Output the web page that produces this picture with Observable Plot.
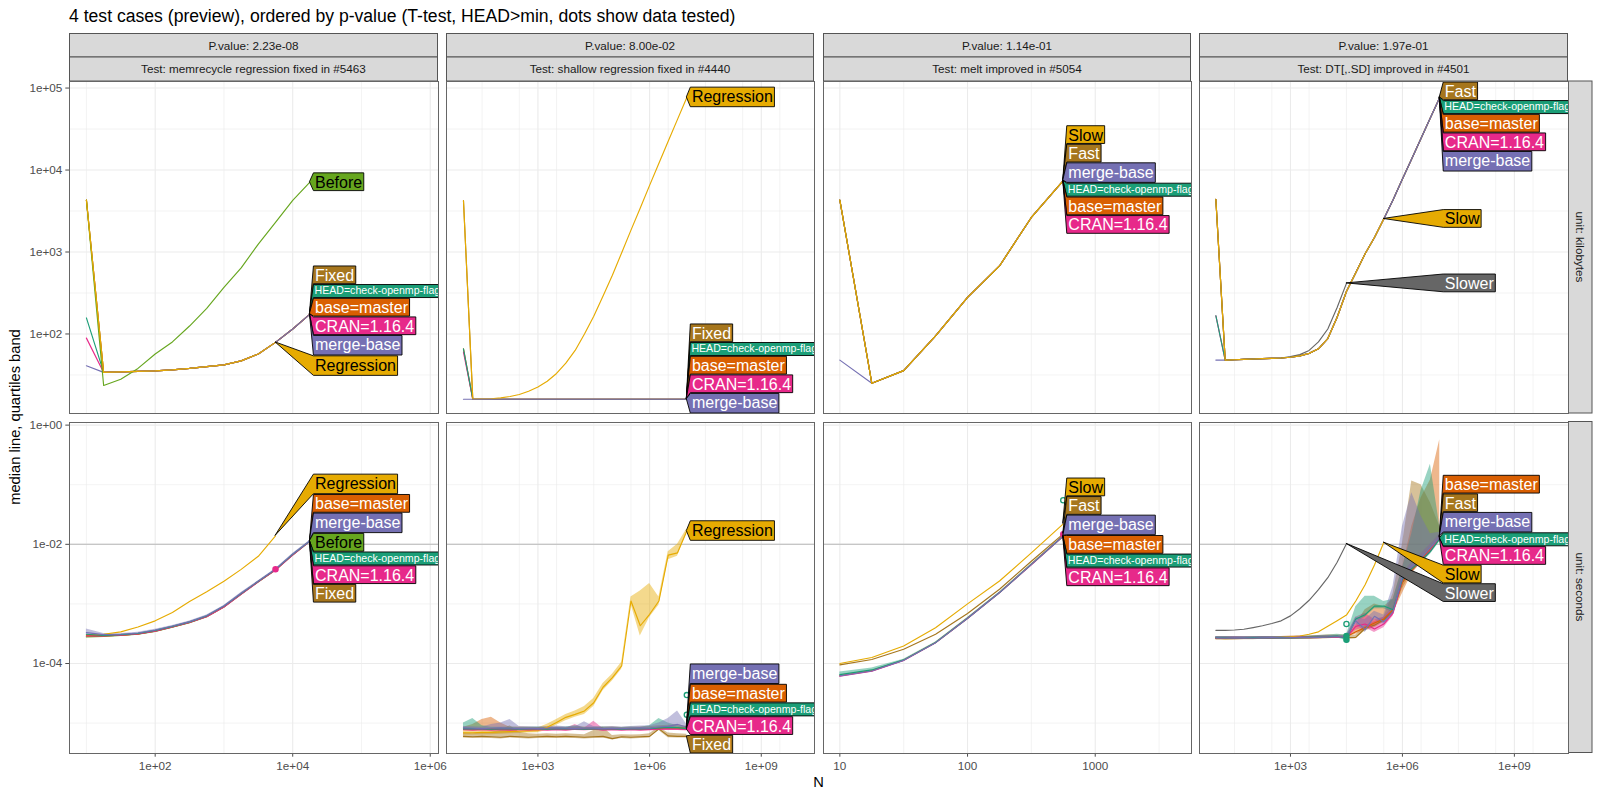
<!DOCTYPE html>
<html><head><meta charset="utf-8">
<script src="https://cdn.jsdelivr.net/npm/d3@7"></script>
<script src="https://cdn.jsdelivr.net/npm/@observablehq/plot@0.6"></script>
<style>
body{margin:0;background:#fff;}
#chart{position:relative;width:1600px;height:800px;overflow:hidden;font-family:"Liberation Sans",Arial,sans-serif;}
#chart svg{position:absolute;}
</style></head><body><div id="chart"></div>
<script>
// ---------------- DATA ----------------
const chartTitle = "4 test cases (preview), ordered by p-value (T-test, HEAD>min, dots show data tested)";
const testNames = ["memrecycle regression fixed in #5463", "shallow regression fixed in #4440", "melt improved in #5054", "DT[,.SD] improved in #4501"];
const pValues = ["2.23e-08", "8.00e-02", "1.14e-01", "1.97e-01"];
const units = ["kilobytes", "seconds"];
const xAxisTitle = "N";
const yAxisTitle = "median line, quartiles band";

const seriesNames = ["HEAD=check-openmp-flags", "base=master", "merge-base", "CRAN=1.16.4", "Before", "Regression", "Fixed", "Slow", "Fast", "Slower"];
const seriesColors = ["#1B9E77", "#D95F02", "#7570B3", "#E7298A", "#66A61E", "#E6AB02", "#A6761D", "#E6AB02", "#A6761D", "#666666"];
const darkTextSeries = ["Before", "Regression", "Slow"];

// tick values and labels
const xTicks_memrecycle = [1e2, 1e4, 1e6], xTickLabels_memrecycle = ["1e+02", "1e+04", "1e+06"];
const xTicks_shallow = [1e3, 1e6, 1e9], xTickLabels_shallow = ["1e+03", "1e+06", "1e+09"];
const xTicks_melt = [10, 100, 1000], xTickLabels_melt = ["10", "100", "1000"];
const xTicks_sd = [1e3, 1e6, 1e9], xTickLabels_sd = ["1e+03", "1e+06", "1e+09"];
const yTicks_kb = [1e2, 1e3, 1e4, 1e5], yTickLabels_kb = ["1e+02", "1e+03", "1e+04", "1e+05"];
const yTicks_s = [1e-4, 1e-2, 1e0], yTickLabels_s = ["1e-04", "1e-02", "1e+00"];
const refLine_s = [1e-2];

// N grids
const N_memrecycle = [10, 17.8, 31.6, 56.2, 100, 178, 316, 562, 1000, 1780, 3160, 5620, 10000, 17800];
const N_shallow = [10, 17.8, 31.6, 56.2, 100, 178, 316, 562, 1e3, 1.78e3, 3.16e3, 5.62e3, 1e4, 1.78e4, 3.16e4, 5.62e4, 1e5, 1.78e5, 3.16e5, 5.62e5, 1e6, 1.78e6, 3.16e6, 5.62e6, 1e7];
const N_melt = [10, 17.8, 31.6, 56.2, 100, 178, 316, 562];
const N_sd = [10, 17.8, 31.6, 56.2, 100, 178, 316, 562, 1e3, 1.78e3, 3.16e3, 5.62e3, 1e4, 1.78e4, 3.16e4, 5.62e4, 1e5, 1.78e5, 3.16e5, 5.62e5, 1e6, 1.78e6, 3.16e6, 5.62e6, 1e7];

// ---- kilobytes ----
const kb_mem_Before = [4300, 23.5, 28, 38, 57, 80, 125, 205, 370, 640, 1250, 2300, 4270, 7100];
const kb_mem_Regression = [4300, 34, 34.5, 35, 35.5, 36.5, 38, 40, 42, 47, 57, 79];
const kb_mem_Fixed = [4300, 34, 34.5, 35, 35.5, 36.5, 38, 40, 42, 47, 57, 79, 115, 175];
const kb_mem_base = [4300, 34, 34.5, 35, 35.5, 36.5, 38, 40, 42, 47, 57, 79, 115, 175];
const kb_mem_CRAN = [89, 34, 34.5, 35, 35.5, 36.5, 38, 40, 42, 47, 57, 79, 115, 175];
const kb_mem_HEAD = [157, 34, 34.5, 35, 35.5, 36.5, 38, 40, 42, 47, 57, 79, 115, 175];
const kb_mem_merge = [41, 34, 34.5, 35, 35.5, 36.5, 38, 40, 42, 47, 57, 79, 115, 175];

const kb_sh_Regression = [4230, 16.05, 16.1, 16.2, 16.6, 17.3, 18.3, 20, 22.5, 26.5, 33, 44, 63, 100, 165, 290, 520, 980, 1850, 3450, 6500, 12100, 22400, 41500, 76900];
const kb_sh_Fixed = [4230, 16, 16, 16, 16, 16, 16, 16, 16, 16, 16, 16, 16, 16, 16, 16, 16, 16, 16, 16, 16, 16, 16, 16, 16];
const kb_sh_base = [66, 16, 16, 16, 16, 16, 16, 16, 16, 16, 16, 16, 16, 16, 16, 16, 16, 16, 16, 16, 16, 16, 16, 16, 16];
const kb_sh_CRAN = [60, 16, 16, 16, 16, 16, 16, 16, 16, 16, 16, 16, 16, 16, 16, 16, 16, 16, 16, 16, 16, 16, 16, 16, 16];
const kb_sh_HEAD = [66, 16, 16, 16, 16, 16, 16, 16, 16, 16, 16, 16, 16, 16, 16, 16, 16, 16, 16, 16, 16, 16, 16, 16, 16];
const kb_sh_merge = [16, 16, 16, 16, 16, 16, 16, 16, 16, 16, 16, 16, 16, 16, 16, 16, 16, 16, 16, 16, 16, 16, 16, 16, 16];

const kb_melt_Slow = [4300, 25, 35.7, 95, 279, 676, 2640, 7440];
const kb_melt_Fast = [4300, 25, 35.7, 95, 279, 676, 2640, 7440];
const kb_melt_base = [4300, 25, 35.7, 95, 279, 676, 2640, 7440];
const kb_melt_CRAN = [4300, 25, 35.7, 95, 279, 676, 2640, 7440];
const kb_melt_HEAD = [4300, 25, 35.7, 95, 279, 676, 2640, 7440];
const kb_melt_merge = [48, 25, 35.7, 95, 279, 676, 2640, 7440];

const kb_sd_Slower = [4400, 48, 48.5, 49, 49.5, 50, 50.5, 51, 53, 56, 63, 80, 115, 210, 414];
const kb_sd_Slow = [4400, 48, 48.5, 49, 49.5, 50, 50.5, 51, 52, 54, 58, 66, 88, 160, 330, 560, 950, 1500, 2530];
const kb_sd_Fast = [4400, 48, 48.5, 49, 49.5, 50, 50.5, 51, 52, 54, 58, 66, 88, 160, 330, 560, 950, 1500, 2530, 4350, 7750, 13700, 24400, 43400, 76900];
const kb_sd_base = [4400, 48, 48.5, 49, 49.5, 50, 50.5, 51, 52, 54, 58, 66, 88, 160, 330, 560, 950, 1500, 2530, 4350, 7750, 13700, 24400, 43400, 76900];
const kb_sd_CRAN = [167, 48, 48.5, 49, 49.5, 50, 50.5, 51, 52, 54, 58, 66, 88, 160, 330, 560, 950, 1500, 2530, 4350, 7750, 13700, 24400, 43400, 76900];
const kb_sd_HEAD = [167, 48, 48.5, 49, 49.5, 50, 50.5, 51, 52, 54, 58, 66, 88, 160, 330, 560, 950, 1500, 2530, 4350, 7750, 13700, 24400, 43400, 76900];
const kb_sd_merge = [48, 48, 48.5, 49, 49.5, 50, 50.5, 51, 52, 54, 58, 66, 88, 160, 330, 560, 950, 1500, 2530, 4350, 7750, 13700, 24400, 43400, 76900];

// ---- seconds ----
const s_mem_Regression = [3.0e-4, 3.1e-4, 3.4e-4, 4.1e-4, 5.2e-4, 7.2e-4, 1.1e-3, 1.6e-3, 2.4e-3, 3.8e-3, 6.3e-3, 1.38e-2];
const s_mem_Before = [2.8e-4, 2.85e-4, 2.95e-4, 3.1e-4, 3.45e-4, 4.05e-4, 4.85e-4, 6.1e-4, 8.9e-4, 1.46e-3, 2.36e-3, 3.72e-3, 6.65e-3, 1.13e-2];
const s_mem_Fixed = [2.9e-4, 2.9e-4, 3.0e-4, 3.15e-4, 3.5e-4, 4.1e-4, 4.9e-4, 6.15e-4, 8.95e-4, 1.47e-3, 2.37e-3, 3.74e-3, 6.7e-3, 1.135e-2];
const s_mem_base = [3.0e-4, 2.95e-4, 3.0e-4, 3.15e-4, 3.55e-4, 4.15e-4, 4.95e-4, 6.2e-4, 9.0e-4, 1.48e-3, 2.38e-3, 3.75e-3, 6.7e-3, 1.13e-2];
const s_mem_CRAN = [2.9e-4, 2.9e-4, 3.0e-4, 3.15e-4, 3.5e-4, 4.1e-4, 4.9e-4, 6.1e-4, 8.9e-4, 1.45e-3, 2.35e-3, 3.7e-3, 6.6e-3, 1.12e-2];
const s_mem_HEAD = [3.1e-4, 2.95e-4, 3.05e-4, 3.2e-4, 3.6e-4, 4.2e-4, 5.0e-4, 6.3e-4, 9.2e-4, 1.5e-3, 2.4e-3, 3.8e-3, 6.8e-3, 1.14e-2];
const s_mem_merge = [3.3e-4, 3.05e-4, 3.1e-4, 3.25e-4, 3.65e-4, 4.25e-4, 5.05e-4, 6.4e-4, 9.3e-4, 1.52e-3, 2.42e-3, 3.85e-3, 6.9e-3, 1.15e-2];
const s_mem_merge_lo = [2.95e-4, 2.95e-4, 3.0e-4, 3.15e-4, 3.55e-4, 4.15e-4, 4.95e-4, 6.3e-4, 9.2e-4, 1.5e-3, 2.4e-3, 3.8e-3, 6.8e-3, 1.13e-2];
const s_mem_merge_hi = [3.8e-4, 3.2e-4, 3.2e-4, 3.35e-4, 3.75e-4, 4.35e-4, 5.15e-4, 6.5e-4, 9.4e-4, 1.55e-3, 2.45e-3, 3.9e-3, 7.0e-3, 1.17e-2];
const dots_mem_s_CRAN = [[5620, 3.8e-3]];

const s_sh_Regression = [6.9e-6, 6.9e-6, 7.0e-6, 7.0e-6, 7.1e-6, 7.2e-6, 7.3e-6, 7.4e-6, 7.5e-6, 8.5e-6, 1.02e-5, 1.25e-5, 1.4e-5, 1.6e-5, 2.2e-5, 4.0e-5, 5.8e-5, 9.1e-5, 1.12e-3, 4.3e-4, 6.7e-4, 1.12e-3, 6.6e-3, 7.2e-3, 1.67e-2];
const s_sh_Regression_hi = [7.6e-6, 7.6e-6, 7.7e-6, 7.8e-6, 7.9e-6, 8.0e-6, 8.1e-6, 8.2e-6, 8.3e-6, 9.6e-6, 1.15e-5, 1.4e-5, 1.6e-5, 1.9e-5, 2.6e-5, 4.6e-5, 6.6e-5, 1.05e-4, 1.3e-3, 1.65e-3, 2.2e-3, 1.3e-3, 7.5e-3, 1.0e-2, 1.8e-2];
const s_sh_Regression_lo = [6.3e-6, 6.3e-6, 6.4e-6, 6.4e-6, 6.5e-6, 6.6e-6, 6.7e-6, 6.8e-6, 6.9e-6, 7.6e-6, 9.2e-6, 1.1e-5, 1.25e-5, 1.4e-5, 1.9e-5, 3.5e-5, 5.1e-5, 8.0e-5, 1.0e-3, 2.9e-4, 5.9e-4, 9.5e-4, 5.5e-3, 6.3e-3, 1.55e-2];
const s_sh_Fixed = [6.0e-6, 5.9e-6, 6.0e-6, 5.9e-6, 5.8e-6, 6.0e-6, 5.9e-6, 5.8e-6, 5.9e-6, 6.0e-6, 5.9e-6, 6.0e-6, 5.9e-6, 5.8e-6, 5.9e-6, 6.0e-6, 5.5e-6, 5.9e-6, 5.8e-6, 5.9e-6, 6.0e-6, 8.0e-6, 6.1e-6, 6.0e-6, 6.0e-6];
const s_sh_Fixed_hi = [6.8e-6, 6.6e-6, 6.8e-6, 7.0e-6, 7.5e-6, 9.0e-6, 7.0e-6, 6.6e-6, 6.5e-6, 6.6e-6, 6.5e-6, 6.6e-6, 6.5e-6, 6.4e-6, 7.5e-6, 8.5e-6, 6.2e-6, 6.4e-6, 6.3e-6, 6.4e-6, 6.6e-6, 8.5e-6, 6.8e-6, 6.6e-6, 6.5e-6];
const s_sh_Fixed_lo = [5.6e-6, 5.5e-6, 5.6e-6, 5.5e-6, 5.4e-6, 5.6e-6, 5.5e-6, 5.4e-6, 5.5e-6, 5.6e-6, 5.5e-6, 5.6e-6, 5.5e-6, 5.4e-6, 5.5e-6, 5.6e-6, 5.2e-6, 5.5e-6, 5.4e-6, 5.5e-6, 5.6e-6, 7.5e-6, 5.7e-6, 5.6e-6, 5.6e-6];
const s_sh_base = [7.9e-6, 8.0e-6, 8.0e-6, 8.1e-6, 8.0e-6, 7.9e-6, 8.0e-6, 8.0e-6, 7.9e-6, 8.0e-6, 8.0e-6, 7.9e-6, 8.0e-6, 8.0e-6, 7.9e-6, 8.0e-6, 8.0e-6, 7.9e-6, 8.0e-6, 8.0e-6, 8.1e-6, 8.2e-6, 8.2e-6, 8.3e-6, 8.2e-6];
const s_sh_base_hi = [8.5e-6, 9.5e-6, 1.15e-5, 1.25e-5, 1.0e-5, 8.5e-6, 8.6e-6, 8.5e-6, 8.4e-6, 8.5e-6, 8.6e-6, 8.4e-6, 8.5e-6, 8.6e-6, 8.4e-6, 8.5e-6, 8.6e-6, 8.4e-6, 8.5e-6, 8.6e-6, 8.8e-6, 9.0e-6, 9.2e-6, 9.5e-6, 8.8e-6];
const s_sh_base_lo = [7.5e-6, 7.6e-6, 7.6e-6, 7.7e-6, 7.6e-6, 7.5e-6, 7.6e-6, 7.6e-6, 7.5e-6, 7.6e-6, 7.6e-6, 7.5e-6, 7.6e-6, 7.6e-6, 7.5e-6, 7.6e-6, 7.6e-6, 7.5e-6, 7.6e-6, 7.6e-6, 7.7e-6, 7.8e-6, 7.8e-6, 7.9e-6, 7.8e-6];
const s_sh_CRAN = [7.8e-6, 7.7e-6, 7.8e-6, 7.7e-6, 7.8e-6, 7.7e-6, 7.8e-6, 7.7e-6, 7.8e-6, 7.7e-6, 7.8e-6, 7.7e-6, 7.9e-6, 7.8e-6, 8.0e-6, 7.7e-6, 7.8e-6, 7.7e-6, 7.8e-6, 7.7e-6, 7.8e-6, 7.9e-6, 8.0e-6, 7.9e-6, 7.8e-6];
const s_sh_CRAN_hi = [8.2e-6, 8.1e-6, 8.2e-6, 8.1e-6, 8.2e-6, 8.1e-6, 8.2e-6, 8.1e-6, 8.2e-6, 8.1e-6, 8.2e-6, 8.1e-6, 9.5e-6, 8.2e-6, 1.07e-5, 8.1e-6, 8.2e-6, 8.1e-6, 8.2e-6, 8.1e-6, 8.2e-6, 8.4e-6, 8.6e-6, 8.4e-6, 8.2e-6];
const s_sh_CRAN_lo = [7.4e-6, 7.3e-6, 7.4e-6, 7.3e-6, 7.4e-6, 7.3e-6, 7.4e-6, 7.3e-6, 7.4e-6, 7.3e-6, 7.4e-6, 7.3e-6, 7.5e-6, 7.4e-6, 7.6e-6, 7.3e-6, 7.4e-6, 7.3e-6, 7.4e-6, 7.3e-6, 7.4e-6, 7.5e-6, 7.6e-6, 7.5e-6, 7.4e-6];
const s_sh_HEAD = [8.0e-6, 8.1e-6, 8.0e-6, 7.9e-6, 8.0e-6, 8.0e-6, 7.9e-6, 8.0e-6, 8.0e-6, 7.9e-6, 8.0e-6, 8.1e-6, 8.0e-6, 7.9e-6, 8.0e-6, 8.1e-6, 8.0e-6, 7.9e-6, 8.0e-6, 8.0e-6, 8.1e-6, 8.3e-6, 8.5e-6, 8.4e-6, 8.1e-6];
const s_sh_HEAD_hi = [1.0e-5, 1.2e-5, 9.0e-6, 8.5e-6, 8.5e-6, 8.6e-6, 8.4e-6, 8.5e-6, 8.6e-6, 8.4e-6, 8.5e-6, 8.6e-6, 9.0e-6, 8.4e-6, 8.5e-6, 8.6e-6, 8.5e-6, 8.4e-6, 8.6e-6, 8.5e-6, 9.0e-6, 1.2e-5, 1.0e-5, 9.0e-6, 8.6e-6];
const s_sh_HEAD_lo = [7.6e-6, 7.7e-6, 7.6e-6, 7.5e-6, 7.6e-6, 7.6e-6, 7.5e-6, 7.6e-6, 7.6e-6, 7.5e-6, 7.6e-6, 7.7e-6, 7.6e-6, 7.5e-6, 7.6e-6, 7.7e-6, 7.6e-6, 7.5e-6, 7.6e-6, 7.6e-6, 7.7e-6, 7.9e-6, 8.0e-6, 7.9e-6, 7.7e-6];
const s_sh_merge = [8.3e-6, 8.2e-6, 8.1e-6, 8.2e-6, 8.3e-6, 8.2e-6, 8.1e-6, 8.2e-6, 8.1e-6, 8.2e-6, 8.3e-6, 8.2e-6, 8.1e-6, 8.2e-6, 8.2e-6, 8.1e-6, 8.2e-6, 8.1e-6, 8.2e-6, 8.3e-6, 8.2e-6, 8.6e-6, 8.8e-6, 9.5e-6, 8.6e-6];
const s_sh_merge_hi = [8.8e-6, 8.7e-6, 8.6e-6, 9.5e-6, 1.0e-5, 1.15e-5, 8.8e-6, 8.7e-6, 8.6e-6, 8.8e-6, 8.9e-6, 8.7e-6, 8.7e-6, 1.05e-5, 8.8e-6, 8.6e-6, 8.8e-6, 8.6e-6, 8.8e-6, 8.9e-6, 9.0e-6, 1.0e-5, 1.2e-5, 1.6e-5, 9.5e-6];
const s_sh_merge_lo = [7.8e-6, 7.7e-6, 7.7e-6, 7.8e-6, 7.8e-6, 7.7e-6, 7.7e-6, 7.8e-6, 7.7e-6, 7.8e-6, 7.8e-6, 7.7e-6, 7.7e-6, 7.8e-6, 7.8e-6, 7.7e-6, 7.8e-6, 7.7e-6, 7.8e-6, 7.8e-6, 7.8e-6, 8.0e-6, 8.2e-6, 8.6e-6, 8.0e-6];
const dots_sh_s_HEAD_open = [[1e7, 2.95e-5], [1e7, 1.38e-5]];

const s_melt_Slow = [1.0e-4, 1.26e-4, 1.97e-4, 3.98e-4, 1.0e-3, 2.42e-3, 7.2e-3, 2.2e-2];
const s_melt_Fast = [9.5e-5, 1.17e-4, 1.74e-4, 3.1e-4, 6.9e-4, 1.76e-3, 5.2e-3, 1.5e-2];
const s_melt_base = [6.3e-5, 7.6e-5, 1.14e-4, 2.26e-4, 5.8e-4, 1.56e-3, 4.65e-3, 1.39e-2];
const s_melt_CRAN = [6.1e-5, 7.4e-5, 1.12e-4, 2.22e-4, 5.7e-4, 1.54e-3, 4.55e-3, 1.36e-2];
const s_melt_HEAD = [6.5e-5, 7.8e-5, 1.15e-4, 2.25e-4, 5.75e-4, 1.55e-3, 4.6e-3, 1.37e-2];
const s_melt_HEAD_hi = [7.2e-5, 8.4e-5, 1.18e-4, 2.3e-4, 5.9e-4, 1.58e-3, 4.7e-3, 1.4e-2];
const s_melt_HEAD_lo = [6.0e-5, 7.3e-5, 1.1e-4, 2.2e-4, 5.6e-4, 1.52e-3, 4.5e-3, 1.34e-2];
const s_melt_merge = [6.2e-5, 7.5e-5, 1.13e-4, 2.24e-4, 5.75e-4, 1.55e-3, 4.6e-3, 1.38e-2];
const dots_melt_s_CRAN = [[562, 1.48e-2]];
const dots_melt_s_HEAD_open = [[562, 5.5e-2]];

const s_sd_Slower = [3.6e-4, 3.6e-4, 3.65e-4, 3.75e-4, 4.0e-4, 4.3e-4, 4.7e-4, 5.2e-4, 6.3e-4, 8.3e-4, 1.15e-3, 1.74e-3, 2.75e-3, 5.0e-3, 1.02e-2];
const s_sd_Slow = [2.65e-4, 2.62e-4, 2.64e-4, 2.66e-4, 2.68e-4, 2.7e-4, 2.72e-4, 2.75e-4, 2.8e-4, 2.9e-4, 3.1e-4, 3.4e-4, 4.2e-4, 5.2e-4, 6.5e-4, 1.12e-3, 2.1e-3, 4.5e-3, 1.07e-2];
const s_sd_Fast = [2.62e-4, 2.6e-4, 2.62e-4, 2.64e-4, 2.63e-4, 2.65e-4, 2.66e-4, 2.68e-4, 2.7e-4, 2.72e-4, 2.7e-4, 2.72e-4, 2.75e-4, 2.78e-4, 2.7e-4, 2.75e-4, 3.9e-4, 4.4e-4, 5.4e-4, 7.6e-4, 2.3e-3, 3.7e-3, 5.6e-3, 8.5e-3, 1.32e-2];
const s_sd_Fast_hi = [2.75e-4, 2.75e-4, 2.75e-4, 2.75e-4, 2.75e-4, 2.8e-4, 2.8e-4, 2.8e-4, 2.85e-4, 2.85e-4, 2.85e-4, 2.85e-4, 2.9e-4, 2.9e-4, 2.85e-4, 3.0e-4, 4.3e-4, 5.0e-4, 6.0e-4, 1.5e-3, 1.0e-2, 1.15e-1, 1.0e-1, 5.0e-2, 2.0e-2];
const s_sd_Fast_lo = [2.5e-4, 2.5e-4, 2.5e-4, 2.5e-4, 2.5e-4, 2.55e-4, 2.55e-4, 2.55e-4, 2.6e-4, 2.6e-4, 2.6e-4, 2.6e-4, 2.6e-4, 2.65e-4, 2.6e-4, 2.6e-4, 3.5e-4, 4.0e-4, 4.9e-4, 6.8e-4, 1.8e-3, 3.3e-3, 5.0e-3, 7.5e-3, 1.2e-2];
const s_sd_base = [2.65e-4, 2.64e-4, 2.66e-4, 2.65e-4, 2.67e-4, 2.68e-4, 2.7e-4, 2.69e-4, 2.72e-4, 2.73e-4, 2.74e-4, 2.76e-4, 2.78e-4, 2.8e-4, 2.8e-4, 3.4e-4, 4.0e-4, 4.8e-4, 5.6e-4, 8.0e-4, 2.4e-3, 3.8e-3, 5.5e-3, 8.2e-3, 1.3e-2];
const s_sd_base_hi = [2.8e-4, 2.8e-4, 2.8e-4, 2.8e-4, 2.8e-4, 2.85e-4, 2.85e-4, 2.85e-4, 2.9e-4, 2.9e-4, 2.9e-4, 2.95e-4, 3.0e-4, 3.0e-4, 3.0e-4, 4.5e-4, 8.0e-4, 1.0e-3, 9.0e-4, 1.2e-3, 4.0e-3, 2.0e-2, 6.0e-2, 1.2e-1, 5.7e-1];
const s_sd_base_lo = [2.55e-4, 2.55e-4, 2.55e-4, 2.55e-4, 2.55e-4, 2.6e-4, 2.6e-4, 2.6e-4, 2.6e-4, 2.6e-4, 2.6e-4, 2.65e-4, 2.65e-4, 2.7e-4, 2.7e-4, 3.1e-4, 3.6e-4, 4.3e-4, 5.0e-4, 7.0e-4, 1.5e-3, 3.2e-3, 4.8e-3, 7.2e-3, 1.15e-2];
const s_sd_CRAN = [2.68e-4, 2.66e-4, 2.7e-4, 2.67e-4, 2.69e-4, 2.7e-4, 2.68e-4, 2.71e-4, 2.72e-4, 2.74e-4, 2.73e-4, 2.76e-4, 2.77e-4, 2.79e-4, 2.75e-4, 4.2e-4, 4.6e-4, 3.8e-4, 4.6e-4, 7.0e-4, 2.5e-3, 3.9e-3, 5.4e-3, 8.0e-3, 1.28e-2];
const s_sd_CRAN_hi = [2.8e-4, 2.8e-4, 2.85e-4, 2.8e-4, 2.8e-4, 2.85e-4, 2.8e-4, 2.85e-4, 2.85e-4, 2.85e-4, 2.85e-4, 2.9e-4, 2.9e-4, 2.9e-4, 2.9e-4, 6.0e-4, 7.0e-4, 5.5e-4, 6.0e-4, 9.0e-4, 3.2e-3, 5.0e-3, 7.0e-3, 1.0e-2, 1.5e-2];
const s_sd_CRAN_lo = [2.55e-4, 2.55e-4, 2.6e-4, 2.55e-4, 2.55e-4, 2.6e-4, 2.55e-4, 2.6e-4, 2.6e-4, 2.6e-4, 2.6e-4, 2.6e-4, 2.65e-4, 2.65e-4, 2.6e-4, 3.6e-4, 4.0e-4, 3.3e-4, 4.0e-4, 6.2e-4, 2.2e-3, 3.4e-3, 4.8e-3, 7.1e-3, 1.15e-2];
const s_sd_HEAD = [2.72e-4, 2.7e-4, 2.68e-4, 2.7e-4, 2.72e-4, 2.7e-4, 2.7e-4, 2.72e-4, 2.7e-4, 2.72e-4, 2.75e-4, 2.78e-4, 2.8e-4, 2.9e-4, 2.6e-4, 5.6e-4, 6.6e-4, 9.2e-4, 9.2e-4, 8.0e-4, 2.6e-3, 3.9e-3, 5.3e-3, 7.6e-3, 1.25e-2];
const s_sd_HEAD_hi = [2.85e-4, 2.85e-4, 2.8e-4, 2.8e-4, 2.85e-4, 2.85e-4, 2.85e-4, 2.85e-4, 2.85e-4, 2.85e-4, 2.9e-4, 2.95e-4, 3.0e-4, 3.1e-4, 3.0e-4, 9.0e-4, 1.35e-3, 1.35e-3, 1.1e-3, 1.2e-3, 4.0e-3, 1.5e-2, 8.0e-2, 2.2e-1, 2.0e-2];
const s_sd_HEAD_lo = [2.6e-4, 2.6e-4, 2.55e-4, 2.6e-4, 2.6e-4, 2.6e-4, 2.6e-4, 2.6e-4, 2.6e-4, 2.6e-4, 2.6e-4, 2.65e-4, 2.65e-4, 2.7e-4, 2.4e-4, 5.0e-4, 6.0e-4, 8.3e-4, 8.3e-4, 7.2e-4, 2.2e-3, 3.5e-3, 4.8e-3, 6.8e-3, 1.1e-2];
const s_sd_merge = [2.7e-4, 2.68e-4, 2.7e-4, 2.7e-4, 2.68e-4, 2.7e-4, 2.72e-4, 2.7e-4, 2.72e-4, 2.75e-4, 2.72e-4, 2.75e-4, 2.78e-4, 2.8e-4, 2.8e-4, 5.2e-4, 3.7e-4, 6.2e-4, 5.0e-4, 7.5e-4, 2.9e-3, 4.3e-3, 6.0e-3, 8.8e-3, 1.35e-2];
const s_sd_merge_hi = [2.85e-4, 2.8e-4, 2.85e-4, 2.85e-4, 2.8e-4, 2.85e-4, 2.85e-4, 2.85e-4, 2.85e-4, 2.9e-4, 2.85e-4, 2.9e-4, 2.95e-4, 2.95e-4, 2.95e-4, 6.0e-4, 5.5e-4, 7.5e-4, 6.5e-4, 2.0e-3, 2.0e-2, 7.3e-2, 3.0e-2, 1.5e-2, 1.6e-2];
const s_sd_merge_lo = [2.6e-4, 2.55e-4, 2.6e-4, 2.6e-4, 2.55e-4, 2.6e-4, 2.6e-4, 2.6e-4, 2.6e-4, 2.6e-4, 2.6e-4, 2.6e-4, 2.65e-4, 2.65e-4, 2.65e-4, 4.6e-4, 3.3e-4, 5.5e-4, 4.5e-4, 6.8e-4, 2.5e-3, 3.8e-3, 5.4e-3, 7.9e-3, 1.2e-2];
const dots_sd_s_HEAD = [[3.16e4, 2.5e-4], [3.16e4, 2.9e-4]];
const dots_sd_s_HEAD_open = [[3.16e4, 4.6e-4]];

// label stacking order per panel (top to bottom)
const labelOrder_mem_kb = ["Before", "Fixed", "HEAD=check-openmp-flags", "base=master", "CRAN=1.16.4", "merge-base", "Regression"];
const labelOrder_sh_kb = ["Regression", "Fixed", "HEAD=check-openmp-flags", "base=master", "CRAN=1.16.4", "merge-base"];
const labelOrder_melt_kb = ["Slow", "Fast", "merge-base", "HEAD=check-openmp-flags", "base=master", "CRAN=1.16.4"];
const labelOrder_sd_kb = ["Fast", "HEAD=check-openmp-flags", "base=master", "CRAN=1.16.4", "merge-base", "Slow", "Slower"];
const labelOrder_mem_s = ["Regression", "base=master", "merge-base", "Before", "HEAD=check-openmp-flags", "CRAN=1.16.4", "Fixed"];
const labelOrder_sh_s = ["Regression", "merge-base", "base=master", "HEAD=check-openmp-flags", "CRAN=1.16.4", "Fixed"];
const labelOrder_melt_s = ["Slow", "Fast", "merge-base", "base=master", "HEAD=check-openmp-flags", "CRAN=1.16.4"];
const labelOrder_sd_s = ["base=master", "Fast", "merge-base", "HEAD=check-openmp-flags", "CRAN=1.16.4", "Slow", "Slower"];

// ---------------- BUILD ----------------
const H = "HEAD=check-openmp-flags", B = "base=master", M = "merge-base", C = "CRAN=1.16.4";
const colorOf = n => seriesColors[seriesNames.indexOf(n)];
const S = (name, v, lo, hi) => ({name, v, lo, hi});

// series listed in drawing order (last drawn on top)
const panels = [
  {col: 0, row: 0, N: N_memrecycle, order: labelOrder_mem_kb, series: [S(H, kb_mem_HEAD), S(C, kb_mem_CRAN), S(B, kb_mem_base), S("Fixed", kb_mem_Fixed), S(M, kb_mem_merge), S("Before", kb_mem_Before), S("Regression", kb_mem_Regression)], dots: []},
  {col: 1, row: 0, N: N_shallow, order: labelOrder_sh_kb, series: [S(B, kb_sh_base), S(C, kb_sh_CRAN), S(H, kb_sh_HEAD), S("Fixed", kb_sh_Fixed), S("Regression", kb_sh_Regression), S(M, kb_sh_merge)], dots: []},
  {col: 2, row: 0, N: N_melt, order: labelOrder_melt_kb, series: [S(M, kb_melt_merge), S(B, kb_melt_base), S(C, kb_melt_CRAN), S(H, kb_melt_HEAD), S("Fast", kb_melt_Fast), S("Slow", kb_melt_Slow)], dots: []},
  {col: 3, row: 0, N: N_sd, order: labelOrder_sd_kb, series: [S(B, kb_sd_base), S(C, kb_sd_CRAN), S(H, kb_sd_HEAD), S("Fast", kb_sd_Fast), S(M, kb_sd_merge), S("Slower", kb_sd_Slower), S("Slow", kb_sd_Slow)], dots: []},
  {col: 0, row: 1, N: N_memrecycle, order: labelOrder_mem_s, series: [S("Regression", s_mem_Regression), S("Before", s_mem_Before), S("Fixed", s_mem_Fixed), S(B, s_mem_base), S(C, s_mem_CRAN), S(H, s_mem_HEAD), S(M, s_mem_merge, s_mem_merge_lo, s_mem_merge_hi)],
    dots: [{name: C, pts: dots_mem_s_CRAN, open: false}]},
  {col: 1, row: 1, N: N_shallow, order: labelOrder_sh_s, series: [S("Regression", s_sh_Regression, s_sh_Regression_lo, s_sh_Regression_hi), S("Fixed", s_sh_Fixed, s_sh_Fixed_lo, s_sh_Fixed_hi), S(B, s_sh_base, s_sh_base_lo, s_sh_base_hi), S(C, s_sh_CRAN, s_sh_CRAN_lo, s_sh_CRAN_hi), S(H, s_sh_HEAD, s_sh_HEAD_lo, s_sh_HEAD_hi), S(M, s_sh_merge, s_sh_merge_lo, s_sh_merge_hi)],
    dots: [{name: H, pts: dots_sh_s_HEAD_open, open: true}]},
  {col: 2, row: 1, N: N_melt, order: labelOrder_melt_s, series: [S("Slow", s_melt_Slow), S("Fast", s_melt_Fast), S(B, s_melt_base), S(C, s_melt_CRAN), S(H, s_melt_HEAD, s_melt_HEAD_lo, s_melt_HEAD_hi), S(M, s_melt_merge)],
    dots: [{name: C, pts: dots_melt_s_CRAN, open: false}, {name: H, pts: dots_melt_s_HEAD_open, open: true}]},
  {col: 3, row: 1, N: N_sd, order: labelOrder_sd_s, series: [S("Slower", s_sd_Slower), S("Slow", s_sd_Slow), S("Fast", s_sd_Fast, s_sd_Fast_lo, s_sd_Fast_hi), S(B, s_sd_base, s_sd_base_lo, s_sd_base_hi), S(C, s_sd_CRAN, s_sd_CRAN_lo, s_sd_CRAN_hi), S(H, s_sd_HEAD, s_sd_HEAD_lo, s_sd_HEAD_hi), S(M, s_sd_merge, s_sd_merge_lo, s_sd_merge_hi)],
    dots: [{name: H, pts: dots_sd_s_HEAD, open: false}, {name: H, pts: dots_sd_s_HEAD_open, open: true}]}
];

// layout
const colLeft = [69, 446, 823, 1199], colWidth = [369, 368, 368, 369];
const rowTop = [81, 421.5], rowHeight = [332, 331];
const xDomains = [[10 ** 0.754, 10 ** 6.12], [10 ** 0.544, 10 ** 10.43], [10 ** 0.872, 10 ** 3.754], [10 ** 0.562, 10 ** 10.45]];
const yDomains = [[10 ** 1.03, 10 ** 5.08], [10 ** -5.51, 10 ** 0.044]];
const xTickSets = [[xTicks_memrecycle, xTickLabels_memrecycle], [xTicks_shallow, xTickLabels_shallow], [xTicks_melt, xTickLabels_melt], [xTicks_sd, xTickLabels_sd]];
const yTickSets = [[yTicks_kb, yTickLabels_kb], [yTicks_s, yTickLabels_s]];
const halfDecades = (lo, hi) => { const out = []; for (let e = Math.floor(Math.log10(lo)) - 1; e <= Math.ceil(Math.log10(hi)); e++) { const v = 10 ** (e + 0.5); if (v > lo && v < hi) out.push(v); } return out; };
const xMinor = [[10, 1e3, 1e5], halfDecades(...xDomains[1]), halfDecades(...xDomains[2]), halfDecades(...xDomains[3])];
const yMinor = [halfDecades(...yDomains[0]), [1e-5, 1e-3, 1e-1]];

const FONT = '"Liberation Sans", Arial, sans-serif';
const ctx = document.createElement("canvas").getContext("2d");
function measure(text, fs) {
  ctx.font = `${fs}px ${FONT}`;
  const m = ctx.measureText(text);
  return {width: m.width, asc: m.actualBoundingBoxAscent || fs * 0.72, desc: m.actualBoundingBoxDescent || 0};
}

let uidCounter = 0;
function directLabels(panel) {
  const uid = "clip" + (uidCounter++);
  return (index, scales, values, dimensions) => {
    const {x, y} = scales;
    const {width, height, marginLeft, marginRight, marginTop, marginBottom} = dimensions;
    const top = marginTop, bottom = height - marginBottom, left = marginLeft, right = width - marginRight;
    const labs = panel.order.map(name => {
      const s = panel.series.find(d => d.name === name);
      const last = s.v.length - 1;
      const fs = name === H ? 10.6 : 16;
      const m = measure(name, fs);
      const pad = 0.18 * fs;
      return {name, fs, tx: x(panel.N[last]), ty: y(s.v[last]), asc: m.asc, pad,
        w: m.width + 0.2 * fs, h: m.asc + 0.6 * m.desc + 2 * pad,
        fill: colorOf(name), text: darkTextSeries.includes(name) ? "#000" : "#fff"};
    });
    const gap = 0.8;
    let acc = 0;
    const o = labs.map(d => { const c = acc + d.h / 2; acc += d.h + gap; return c; });
    const z = labs.map((d, i) => d.ty - o[i]);
    const blocks = [];
    z.forEach(v => {
      blocks.push({sum: v, n: 1});
      while (blocks.length > 1) {
        const b = blocks[blocks.length - 1], a = blocks[blocks.length - 2];
        if (a.sum / a.n > b.sum / b.n) { a.sum += b.sum; a.n += b.n; blocks.pop(); } else break;
      }
    });
    const u = [];
    blocks.forEach(b => { for (let k = 0; k < b.n; k++) u.push(b.sum / b.n); });
    labs.forEach((d, i) => { d.top = u[i] + o[i] - d.h / 2; });
    let prev = top + 1;
    labs.forEach(d => { if (d.top < prev) d.top = prev; prev = d.top + d.h + gap; });
    let next = bottom;
    for (let i = labs.length - 1; i >= 0; i--) { const d = labs[i]; if (d.top + d.h > next) d.top = next - d.h; next = d.top - gap; }
    const bx = Math.max(...labs.map(d => d.tx)) + 4;
    const g = d3.create("svg:g").attr("text-anchor", "start");
    g.append("clipPath").attr("id", uid).append("rect").attr("x", left).attr("y", top).attr("width", right - left).attr("height", bottom - top);
    const inner = g.append("g").attr("clip-path", `url(#${uid})`);
    labs.forEach(d => {
      const pts = [[d.tx, d.ty], [bx, d.top], [bx + d.w, d.top], [bx + d.w, d.top + d.h], [bx, d.top + d.h]];
      inner.append("polygon").attr("points", pts.map(p => p.join(",")).join(" "))
        .attr("fill", d.fill).attr("stroke", "#000").attr("stroke-width", 0.9).attr("stroke-linejoin", "miter");
      inner.append("text").attr("x", bx + 0.1 * d.fs).attr("y", d.top + d.pad + d.asc).attr("text-anchor", "start")
        .attr("font-size", d.fs).attr("font-family", FONT).attr("fill", d.text).text(d.name);
    });
    return g.node();
  };
}

const root = document.getElementById("chart");

// overlay: title, strips, axis titles
const ov = d3.select(root).append("svg").attr("width", 1600).attr("height", 800).style("left", "0px").style("top", "0px")
  .attr("font-family", FONT);
ov.append("text").attr("x", 69).attr("y", 22).attr("font-size", 17.6).attr("fill", "#000").text(chartTitle);
for (let c = 0; c < 4; c++) {
  const x0 = colLeft[c], w = colWidth[c];
  [[33.5, 23.5, "P.value: " + pValues[c]], [57, 24, "Test: " + testNames[c]]].forEach(([y0, h, t]) => {
    ov.append("rect").attr("x", x0 + 0.5).attr("y", y0).attr("width", w - 1).attr("height", h)
      .attr("fill", "#D9D9D9").attr("stroke", "#555").attr("stroke-width", 1);
    ov.append("text").attr("x", x0 + w / 2).attr("y", y0 + h / 2 + 4.3).attr("text-anchor", "middle")
      .attr("font-size", 11.7).attr("fill", "#1A1A1A").text(t);
  });
}
for (let r = 0; r < 2; r++) {
  ov.append("rect").attr("x", 1568.5).attr("y", rowTop[r]).attr("width", 23.5).attr("height", rowHeight[r])
    .attr("fill", "#D9D9D9").attr("stroke", "#555").attr("stroke-width", 1);
  ov.append("text").attr("transform", `translate(1580.5,${rowTop[r] + rowHeight[r] / 2}) rotate(90)`)
    .attr("text-anchor", "middle").attr("dy", "0.35em").attr("font-size", 11.7).attr("fill", "#1A1A1A").text("unit: " + units[r]);
}
ov.append("text").attr("x", 818.5).attr("y", 787).attr("text-anchor", "middle").attr("font-size", 14.7).attr("fill", "#000").text(xAxisTitle);
ov.append("text").attr("transform", `translate(20,417) rotate(-90)`).attr("text-anchor", "middle")
  .attr("font-size", 14.7).attr("fill", "#000").text(yAxisTitle);

// panels
panels.forEach(p => {
  const ML = p.col === 0 ? 45 : 0, MB = p.row === 1 ? 30 : 0;
  const w = colWidth[p.col], h = rowHeight[p.row];
  const [xt, xl] = xTickSets[p.col], [yt, yl] = yTickSets[p.row];
  const marks = [
    Plot.ruleX(xMinor[p.col], {stroke: "#EBEBEB", strokeWidth: 0.6}),
    Plot.ruleY(yMinor[p.row], {stroke: "#EBEBEB", strokeWidth: 0.6}),
    Plot.ruleX(xt.filter(v => v > xDomains[p.col][0] && v < xDomains[p.col][1]), {stroke: "#EBEBEB", strokeWidth: 1.1}),
    Plot.ruleY(yt.filter(v => v > yDomains[p.row][0] && v < yDomains[p.row][1]), {stroke: "#EBEBEB", strokeWidth: 1.1})
  ];
  if (p.row === 1) marks.push(Plot.ruleY(refLine_s, {stroke: "#B8B8B8", strokeWidth: 1.1}));
  p.series.forEach(s => {
    if (s.lo && s.hi) {
      const rows = s.v.map((v, i) => ({N: p.N[i], lo: s.lo[i], hi: s.hi[i]}));
      marks.push(Plot.areaY(rows, {x: "N", y1: "lo", y2: "hi", fill: colorOf(s.name), fillOpacity: 0.45}));
    }
  });
  p.series.forEach(s => {
    const rows = s.v.map((v, i) => ({N: p.N[i], v}));
    marks.push(Plot.line(rows, {x: "N", y: "v", stroke: colorOf(s.name), strokeWidth: 1.15}));
  });
  p.dots.forEach(d => {
    marks.push(Plot.dot(d.pts, {x: q => q[0], y: q => q[1], r: 2.6, stroke: colorOf(d.name), strokeWidth: 1.3,
      fill: d.open ? "none" : colorOf(d.name)}));
  });
  marks.push(directLabels(p));
  marks.push(Plot.frame({stroke: "#666", strokeWidth: 1}));
  const svg = Plot.plot({
    width: ML + w, height: h + MB,
    marginLeft: ML, marginRight: 0, marginTop: 0, marginBottom: MB,
    style: `background: none; overflow: visible; font-size: 11.7px; font-family: ${FONT}; color: #4D4D4D;`,
    x: {type: "log", domain: xDomains[p.col], axis: p.row === 1 ? "bottom" : null, ticks: xt,
      tickFormat: d => xl[xt.indexOf(d)], tickSize: 3.7, tickPadding: 4, label: null},
    y: {type: "log", domain: yDomains[p.row], axis: p.col === 0 ? "left" : null, ticks: yt,
      tickFormat: d => yl[yt.indexOf(d)], tickSize: 3.7, tickPadding: 3.5, label: null},
    marks
  });
  svg.style.position = "absolute";
  svg.style.left = (colLeft[p.col] - ML) + "px";
  svg.style.top = rowTop[p.row] + "px";
  root.appendChild(svg);
});
</script></body></html>
